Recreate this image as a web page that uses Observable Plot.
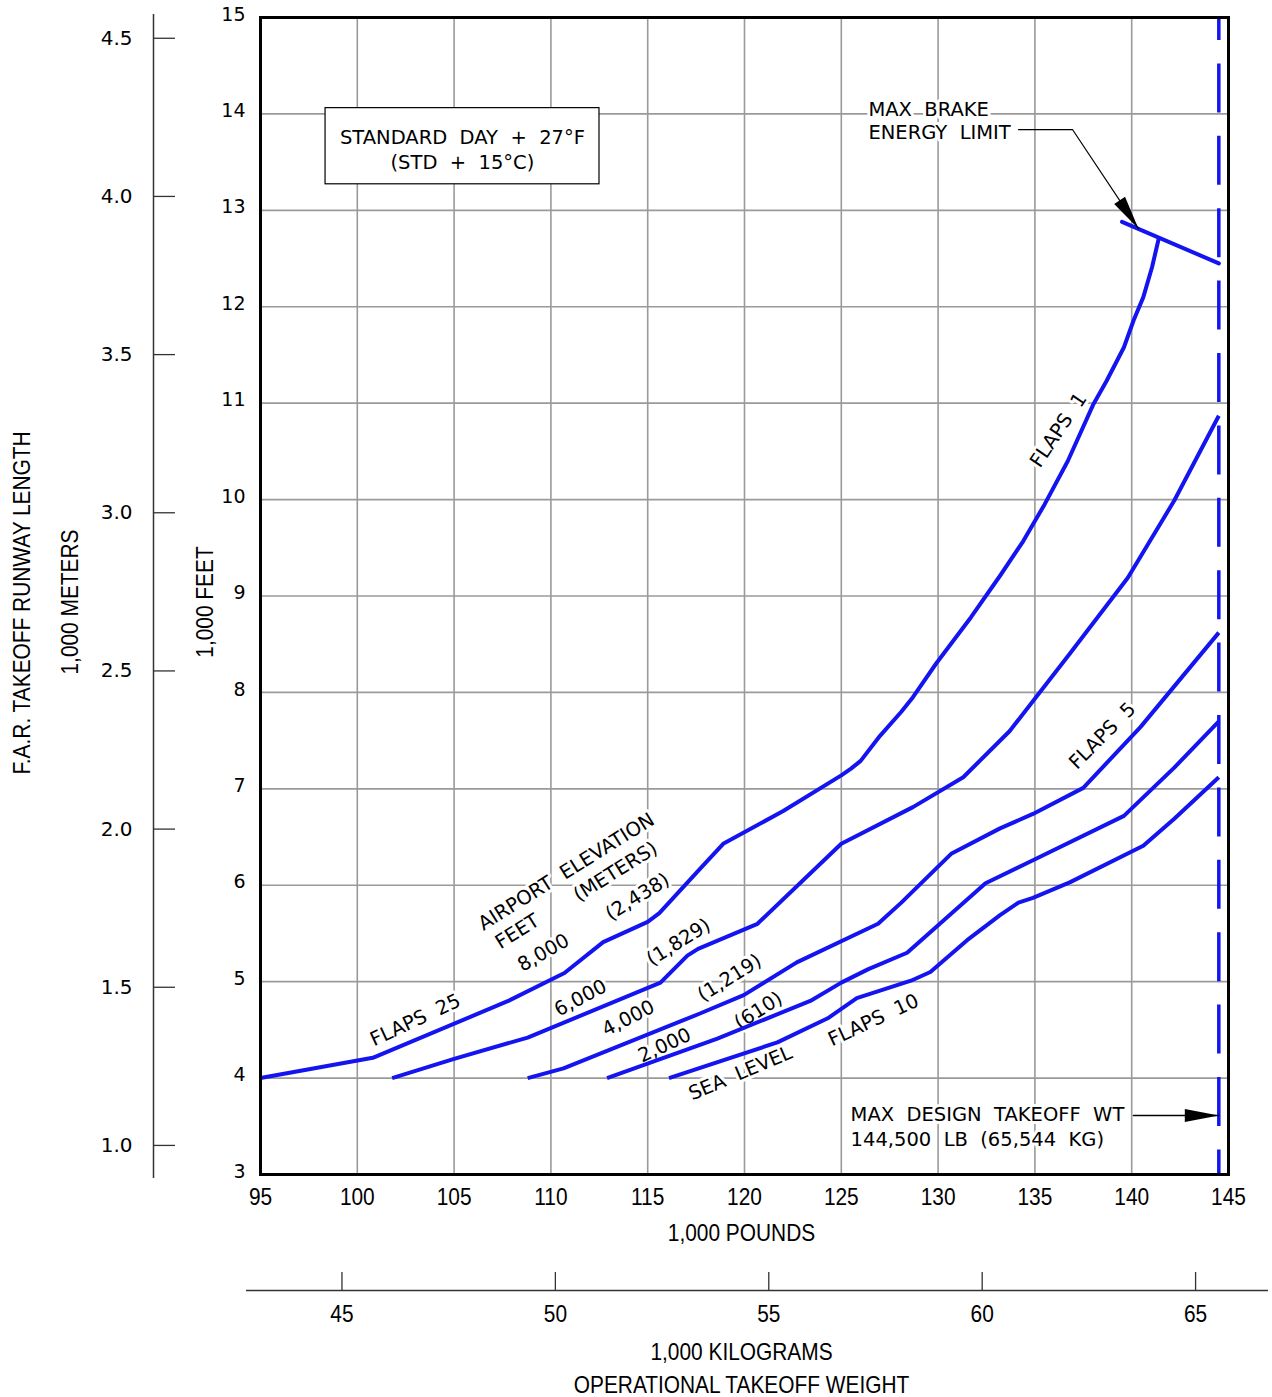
<!DOCTYPE html>
<html>
<head>
<meta charset="utf-8">
<script src="https://cdn.jsdelivr.net/npm/d3@7"></script>
<script src="https://cdn.jsdelivr.net/npm/@observablehq/plot@0.6"></script>
<style>
  body { margin: 0; background: #fff; }
</style>
</head>
<body>
<div id="chart"></div>
<script>
// ---- tick values ----
const lbTicks = [95, 100, 105, 110, 115, 120, 125, 130, 135, 140, 145];
const ftTicks = [3, 4, 5, 6, 7, 8, 9, 10, 11, 12, 13, 14, 15];
const meterTicks = [1.0, 1.5, 2.0, 2.5, 3.0, 3.5, 4.0, 4.5];
const kgTicks = [45, 50, 55, 60, 65];
const FT_PER_M = 3.28084;
const LB_PER_KG = 2.20462;

// ---- curves: [weight 1,000 lb, runway 1,000 ft] ----
const elev8000 = [[95,4.0],[100.8,4.21],[107.8,4.8],[110.7,5.09],[112.7,5.41],[115,5.62],[115.6,5.71],[117.7,6.17],[118.9,6.43],[122,6.77],[125,7.14],[125.5,7.21],[126,7.29],[127,7.55],[128.1,7.8],[128.7,7.95],[129.9,8.3],[131.7,8.78],[133.2,9.21],[134.4,9.57],[135.5,9.95],[136.7,10.4],[138.0,10.98],[138.7,11.23],[139.6,11.58],[140.1,11.86],[140.6,12.1],[141.05,12.41],[141.4,12.71]];
const elev6000 = [[101.8,4.0],[105,4.2],[108.8,4.42],[115.66,4.99],[117.05,5.27],[117.6,5.34],[120.67,5.6],[125,6.43],[128.7,6.81],[131.3,7.12],[133.7,7.6],[136.8,8.4],[139.8,9.19],[142.2,9.99],[144.5,10.87]];
const elev4000 = [[108.8,4.0],[110.65,4.1],[117.7,4.67],[119.96,4.86],[122.7,5.2],[126.9,5.6],[128.1,5.82],[130.7,6.33],[133.2,6.59],[134.9,6.74],[137.5,7.01],[140.45,7.64],[144.5,8.62]];
const elev2000 = [[112.9,4.0],[118.6,4.41],[123.4,4.8],[125,4.99],[126.4,5.13],[128.4,5.3],[132.45,6.02],[134.9,6.26],[139.6,6.72],[142.2,7.22],[144.5,7.7]];
const elevSea  = [[116.1,4.0],[121.7,4.37],[124.3,4.62],[125.8,4.83],[128.6,5.01],[129.6,5.1],[131.5,5.43],[133.2,5.69],[134.15,5.82],[134.9,5.87],[136.8,6.03],[140.6,6.41],[142.2,6.69],[144.5,7.12]];
const seriesNames = ["8,000 FT", "6,000 FT", "4,000 FT", "2,000 FT", "SEA LEVEL"];
const seriesData = [elev8000, elev6000, elev4000, elev2000, elevSea];

const brakeLimit = [[139.5, 12.88], [144.5, 12.45]];
const maxDesignWeight = 144.5;

// ---- in-chart labels: [text, lb, ft, angle] ----
const sp = "\u00a0 ";
const curveLabels = [
  ["FLAPS" + sp + "25", 103.0, 4.60, -25],
  ["AIRPORT" + sp + "ELEVATION", 110.8, 6.14, -32],
  ["FEET", 108.27, 5.52, -32],
  ["(METERS)", 113.34, 6.14, -32],
  ["8,000", 109.62, 5.30, -30],
  ["(2,438)", 114.47, 5.88, -32],
  ["6,000", 111.53, 4.83, -28],
  ["(1,829)", 116.59, 5.41, -32],
  ["4,000", 114.0, 4.62, -27],
  ["(1,219)", 119.23, 5.04, -32],
  ["2,000", 115.87, 4.34, -25],
  ["(610)", 120.72, 4.70, -32],
  ["SEA" + sp + "LEVEL", 119.79, 4.05, -23],
  ["FLAPS" + sp + "10", 126.66, 4.60, -25],
  ["FLAPS" + sp + "5", 138.49, 7.55, -45],
  ["FLAPS" + sp + "1", 136.22, 10.72, -56]
];
const conditionBox = {x1: 98.36, x2: 112.51, y1: 13.27, y2: 14.06};
const conditionText = [
  ["STANDARD" + sp + "DAY" + sp + "+" + sp + "27°F", 105.43, 13.755],
  ["(STD" + sp + "+" + sp + "15°C)", 105.43, 13.496]
];
const noteText = [
  ["MAX" + sp + "BRAKE", 126.4, 14.045],
  ["ENERGY" + sp + "LIMIT", 126.4, 13.807],
  ["MAX" + sp + "DESIGN" + sp + "TAKEOFF" + sp + "WT", 125.48, 3.622],
  ["144,500" + sp + "LB" + sp + "(65,544" + sp + "KG)", 125.48, 3.363]
];
const brakeLeader = [[134.15, 13.838], [136.94, 13.838], [140.35, 12.81]];
const designLeader = [[140.09, 3.612], [144.5, 3.612]];

// ---- build tables ----
const curveRows = seriesNames.flatMap((name, i) => seriesData[i].map(([lb, ft]) => ({name, lb, ft})));
const labelRows = curveLabels.map(([text, lb, ft, rot]) => ({text, lb, ft, rot}));
const condRows = conditionText.map(([text, lb, ft]) => ({text, lb, ft}));
const noteRows = noteText.map(([text, lb, ft]) => ({text, lb, ft}));

const BLUE = "#1414f0";
const GRID = "#9a9a9a";
const CAD = "DejaVu Sans";
const NARROW = "'Liberation Sans Narrow', 'Arial Narrow', 'Liberation Sans', Arial, sans-serif";
const NARROW_SIZE = 24;

function filledArrow(color, context) {
  const m = d3.create("svg:marker")
    .attr("markerUnits", "userSpaceOnUse")
    .attr("orient", "auto")
    .attr("refX", 0).attr("refY", 0)
    .attr("markerWidth", 40).attr("markerHeight", 16)
    .attr("overflow", "visible");
  m.append("path").attr("d", "M0,0L-34,-6.5L-34,6.5Z").attr("fill", "black").attr("stroke", "none");
  return m.node();
}

const narrowOpts = {fontSize: NARROW_SIZE, fontFamily: NARROW, fill: "black", ariaDescription: "narrow"};

const plot = Plot.plot({
  width: 1272,
  height: 1397,
  marginLeft: 260,
  marginRight: 44,
  marginTop: 17,
  marginBottom: 223,
  x: {domain: [95, 145]},
  y: {domain: [3, 15]},
  style: {background: "white", color: "black", fontFamily: CAD, overflow: "visible"},
  marks: [
    Plot.gridX(lbTicks, {stroke: GRID, strokeOpacity: 1, strokeWidth: 1.6}),
    Plot.gridY(ftTicks, {stroke: GRID, strokeOpacity: 1, strokeWidth: 1.6}),
    // labels with white halo (cuts grid like the original)
    Plot.text(labelRows, {x: "lb", y: "ft", text: "text", rotate: "rot", fontSize: 19.5, fontFamily: CAD,
      fill: "black", stroke: "white", strokeWidth: 6, paintOrder: "stroke"}),
    // condition box
    Plot.rect([conditionBox], {x1: "x1", x2: "x2", y1: "y1", y2: "y2", fill: "white", stroke: "black", strokeWidth: 1.2}),
    Plot.text(condRows, {x: "lb", y: "ft", text: "text", fontSize: 19.5, fontFamily: CAD, fill: "black"}),
    // curves
    Plot.line(curveRows, {x: "lb", y: "ft", z: "name", stroke: BLUE, strokeWidth: 4, strokeLinejoin: "round", strokeLinecap: "butt"}),
    Plot.line(brakeLimit, {x: d => d[0], y: d => d[1], stroke: BLUE, strokeWidth: 4}),
    Plot.ruleX([maxDesignWeight], {stroke: BLUE, strokeWidth: 3.5, strokeDasharray: "49,23.4", strokeDashoffset: 26}),
    // notes
    Plot.text(noteRows, {x: "lb", y: "ft", text: "text", textAnchor: "start", fontSize: 19.5, fontFamily: CAD,
      fill: "black", stroke: "white", strokeWidth: 6, paintOrder: "stroke"}),
    Plot.line(brakeLeader, {x: d => d[0], y: d => d[1], stroke: "black", strokeWidth: 1.2, markerEnd: filledArrow}),
    Plot.line(designLeader, {x: d => d[0], y: d => d[1], stroke: "black", strokeWidth: 1.5, markerEnd: filledArrow}),
    Plot.frame({stroke: "black", strokeWidth: 3}),
    // primary axes
    Plot.axisX(lbTicks, {anchor: "bottom", tickSize: 0, tickPadding: 13, tickFormat: d => String(d), label: null, ...narrowOpts}),
    Plot.axisY(ftTicks, {anchor: "left", tickSize: 0, tickPadding: 15, dy: -3, tickFormat: d => String(d), fontSize: 19, fontFamily: CAD, label: null}),
    // secondary metric axes
    Plot.ruleX([95], {dx: -107, insetTop: -3, insetBottom: -4, stroke: "#333", strokeWidth: 1.5}),
    Plot.axisY(meterTicks.map(m => m * FT_PER_M), {anchor: "left", dx: -85, tickSize: 22, tickPadding: 21, dy: -2,
      tickFormat: d => (d / FT_PER_M).toFixed(1), fontSize: 20, fontFamily: CAD, stroke: "#333", strokeWidth: 1.3, label: null}),
    Plot.ruleY([3], {dy: 116, insetLeft: -14, insetRight: -40, stroke: "#333", strokeWidth: 1.5}),
    Plot.axisX(kgTicks.map(k => k * LB_PER_KG), {anchor: "bottom", dy: 98, tickSize: 18, tickPadding: 14,
      tickFormat: d => String(Math.round(d / LB_PER_KG)), stroke: "#333", strokeWidth: 1.3, label: null, ...narrowOpts}),
    // axis titles
    Plot.text(["1,000 POUNDS"], {text: d => d, frameAnchor: "bottom", dx: -3, dy: 66, ...narrowOpts}),
    Plot.text(["1,000 KILOGRAMS"], {text: d => d, frameAnchor: "bottom", dx: -3, dy: 185, ...narrowOpts}),
    Plot.text(["OPERATIONAL TAKEOFF WEIGHT"], {text: d => d, frameAnchor: "bottom", dx: -3, dy: 218, ...narrowOpts}),
    Plot.text(["F.A.R. TAKEOFF RUNWAY LENGTH"], {text: d => d, frameAnchor: "left", textAnchor: "middle", rotate: -90, dx: -238, dy: 7, ...narrowOpts}),
    Plot.text(["1,000 METERS"], {text: d => d, frameAnchor: "left", textAnchor: "middle", rotate: -90, dx: -190, dy: 6, ...narrowOpts}),
    Plot.text(["1,000 FEET"], {text: d => d, frameAnchor: "left", textAnchor: "middle", rotate: -90, dx: -55, dy: 6, ...narrowOpts})
  ]
});

// condense the Arial-like labels horizontally (no narrow face is installed)
d3.select(plot).selectAll('g[aria-description="narrow"] text').each(function () {
  const t = this.getAttribute("transform") || "";
  this.setAttribute("transform", (t + " scale(0.87,1)").trim());
});

document.getElementById("chart").appendChild(plot);
</script>
</body>
</html>
